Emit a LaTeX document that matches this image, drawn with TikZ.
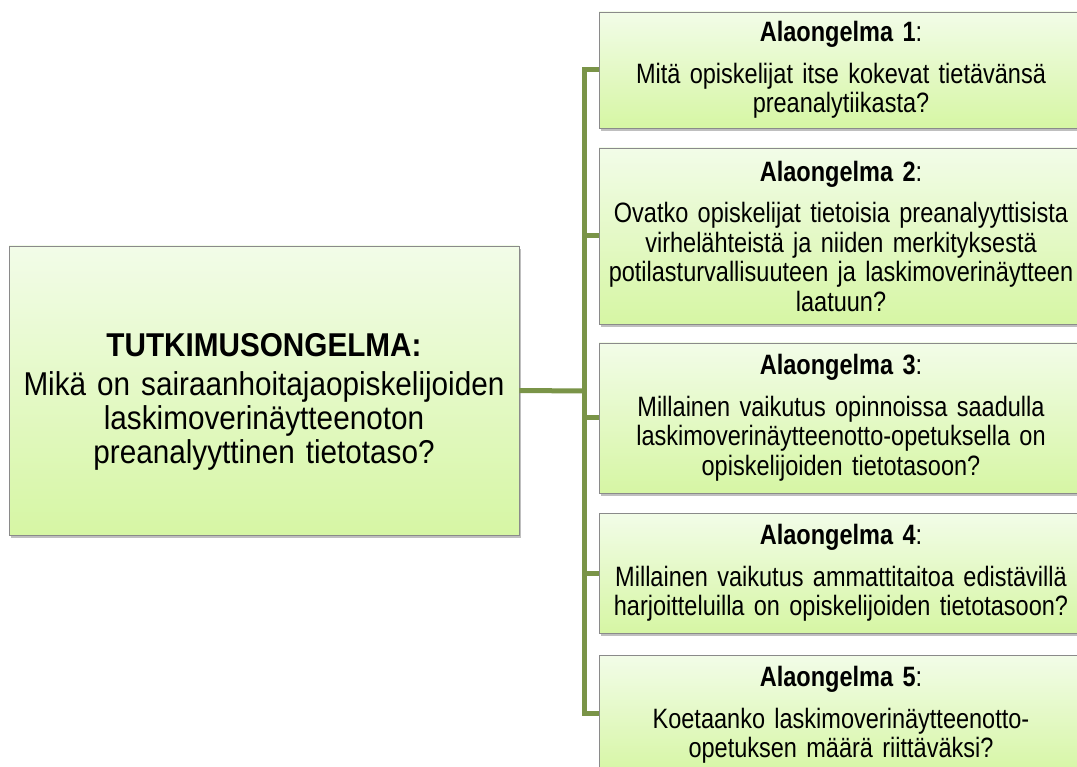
\documentclass[tikz,border=0pt]{standalone}
\usepackage{fontspec}
\setmainfont{Liberation Sans}[FakeStretch=0.84]
\newfontfamily\rootfont{Liberation Sans}[FakeStretch=0.9]
\usepackage{tikz}
\usetikzlibrary{shadows}
\definecolor{branch}{HTML}{7A9448}
\definecolor{boxtop}{HTML}{F2FCE8}
\definecolor{boxbot}{HTML}{D6F6A4}
\definecolor{frame}{HTML}{8A8A8A}
\tikzset{
  card/.style={draw=frame, line width=0.8pt, top color=boxtop, bottom color=boxbot,
    drop shadow={shadow xshift=1.5pt, shadow yshift=-3pt, fill=black, opacity=0.25},
    align=center, inner sep=4pt},
  subcard/.style={card, minimum width=483pt, text width=476pt,
    font=\fontsize{28}{29.5}\selectfont},
  link/.style={draw=branch, line width=5pt, line join=miter},
}

\begin{document}
\begin{tikzpicture}[x=1pt, y=-1pt]
  \useasboundingbox (0,0) rectangle (1077,767);
  \clip (0,0) rectangle (1077,767);

  % main problem
  \node[card, minimum width=508pt, minimum height=289pt, text width=502pt,
    font=\rootfont\fontsize{33}{34}\selectfont] (root) at (264,390.5)
    {\rule{0pt}{46pt}\textbf{TUTKIMUSONGELMA:}\\[5pt]
     Mikä on sairaanhoitajaopiskelijoiden\\
     laskimoverinäytteenoton\\
     preanalyyttinen tietotaso?};

  % sub-problems
  \node[subcard, minimum height=116pt] (sub1) at (841,70)
    {\textbf{Alaongelma 1}:\\[12pt]
     Mitä opiskelijat itse kokevat tietävänsä\\ preanalytiikasta?};
  \node[subcard, minimum height=176pt] (sub2) at (841,236)
    {\textbf{Alaongelma 2}:\\[12pt]
     Ovatko opiskelijat tietoisia preanalyyttisista\\
     virhelähteistä ja niiden merkityksestä\\
     potilasturvallisuuteen ja laskimoverinäytteen\\ laatuun?};
  \node[subcard, minimum height=150pt] (sub3) at (841,418)
    {\textbf{Alaongelma 3}:\\[12pt]
     Millainen vaikutus opinnoissa saadulla\\
     laskimoverinäytteenotto-opetuksella on\\
     opiskelijoiden tietotasoon?};
  \node[subcard, minimum height=120pt] (sub4) at (841,573)
    {\textbf{Alaongelma 4}:\\[12pt]
     Millainen vaikutus ammattitaitoa edistävillä\\
     harjoitteluilla on opiskelijoiden tietotasoon?};
  \node[subcard, minimum height=120pt] (sub5) at (841,715)
    {\textbf{Alaongelma 5}:\\[12pt]
     Koetaanko laskimoverinäytteenotto-\\
     opetuksen määrä riittäväksi?};

  % connectors
  \coordinate (hub) at (584,391);
  \coordinate (foot) at (584,713);
  \draw[link] (root.east) -- (hub);
  \draw[link] (sub1.west) -| (foot) -- (foot -| sub5.west);
  \foreach \b in {sub2,sub3,sub4}
    \draw[link] (foot |- \b.west) -- (\b.west);
\end{tikzpicture}
\end{document}
